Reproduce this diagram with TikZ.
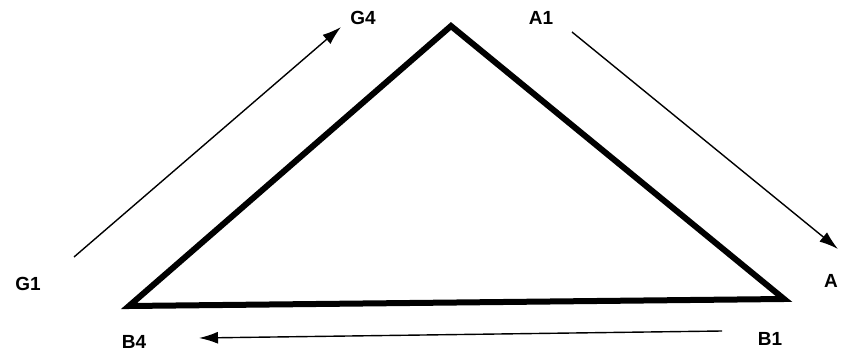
\documentclass[tikz,border=0pt]{standalone}
\usepackage{fontspec}
\setmainfont{Liberation Sans}
\usetikzlibrary{arrows.meta}
\begin{document}
\begin{tikzpicture}[x=1pt,y=-1pt,
  lbl/.style={font=\fontsize{19}{19}\selectfont\bfseries, inner sep=0pt},
  tri/.style={line width=6pt, line join=miter},
  flow/.style={line width=1.4pt, -{Latex[length=19pt,width=12pt]}}]
\useasboundingbox (0,0) rectangle (842,352);
\coordinate (T) at (451,26);
\coordinate (L) at (129,306);
\coordinate (R) at (784,299);
\draw[tri] (T) -- (L) -- (R) -- cycle;
\node[lbl] (g4) at (363,18) {G4};
\node[lbl] (a1) at (541,18) {A1};
\node[lbl] (g1) at (28,284) {G1};
\node[lbl] (a) at (831,281) {A};
\node[lbl] (b4) at (134,342) {B4};
\node[lbl] (b1) at (770,339) {B1};
\coordinate (g1s) at (74,257);
\coordinate (g4e) at (341,27);
\coordinate (a1s) at (572,32);
\coordinate (ae) at (838,249);
\coordinate (b1s) at (722,331);
\coordinate (b4e) at (199,338);
\draw[flow] (g1s) -- (g4e);
\draw[flow] (a1s) -- (ae);
\draw[flow] (b1s) -- (b4e);
\end{tikzpicture}
\end{document}
